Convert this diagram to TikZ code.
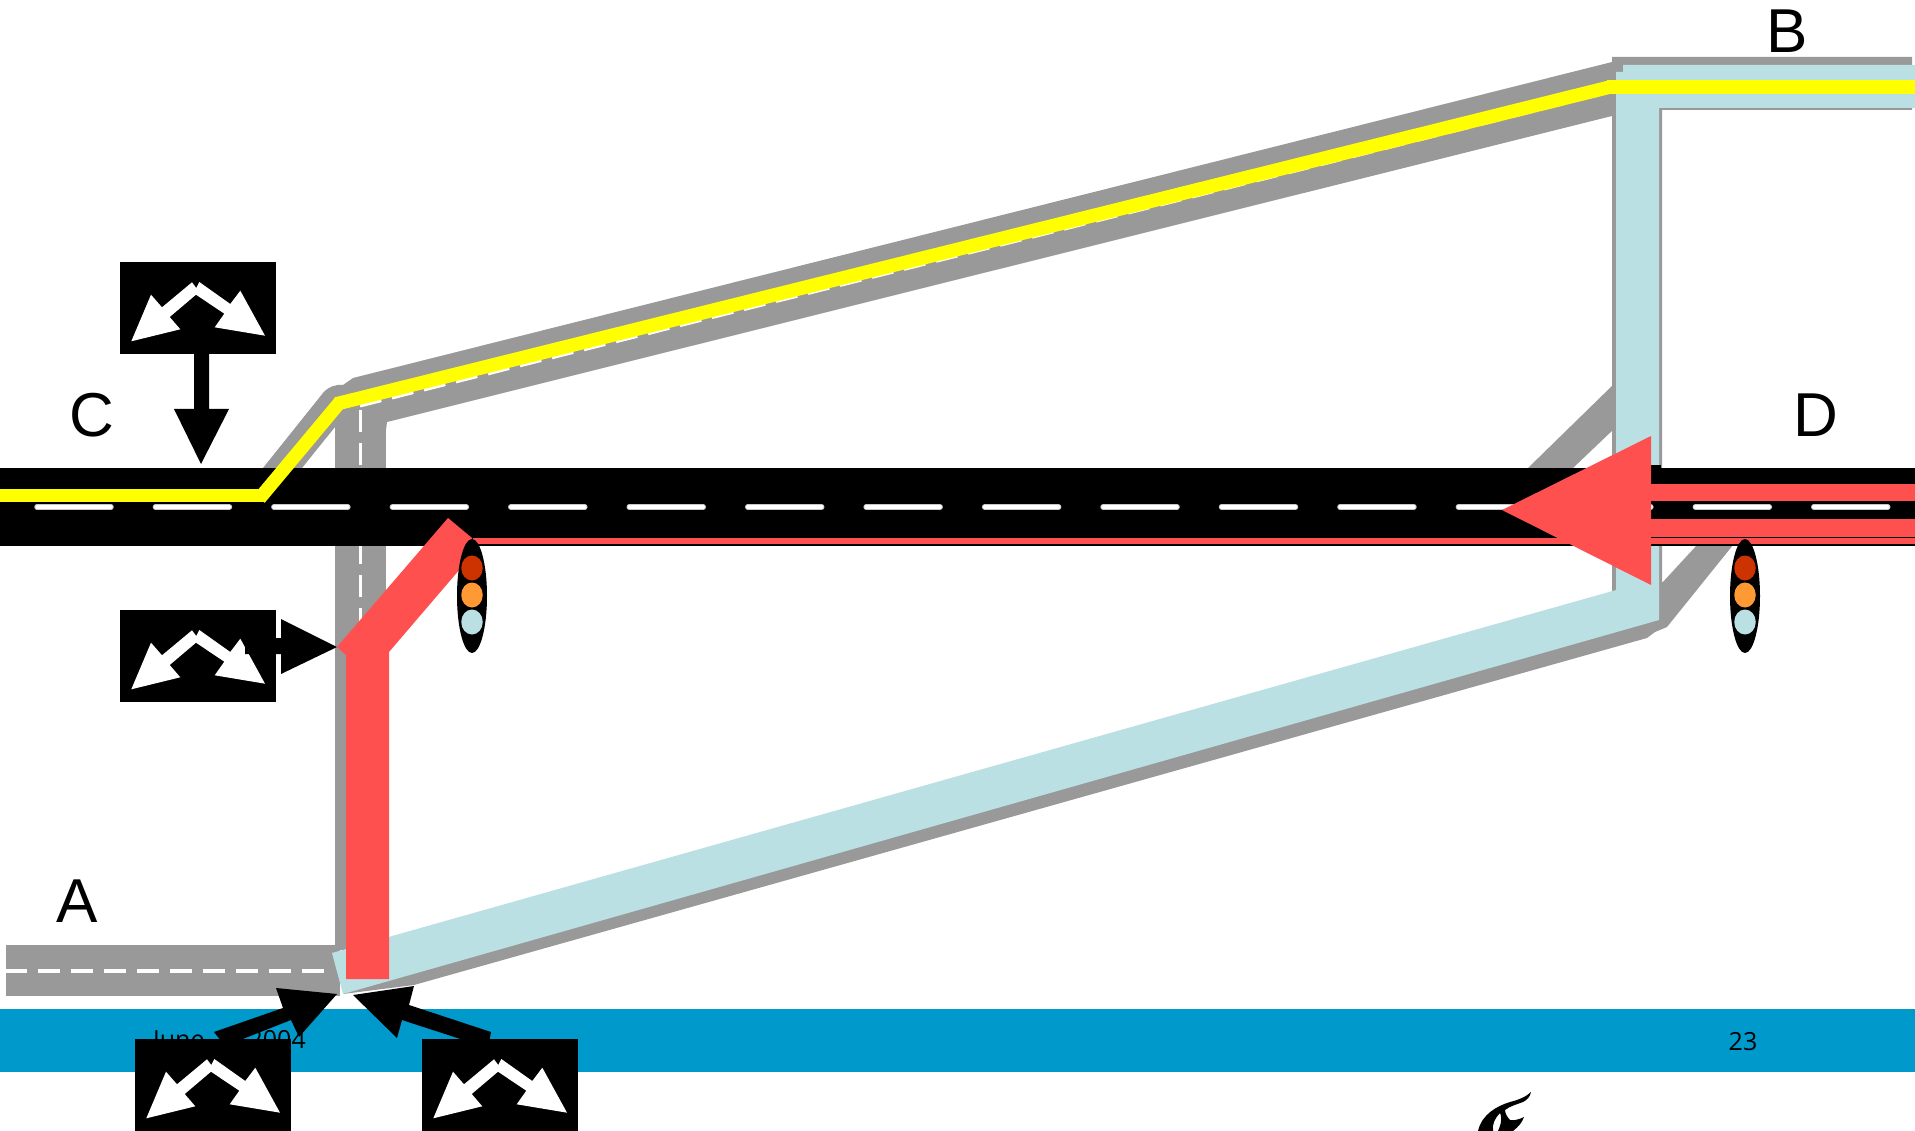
\documentclass[tikz,border=0pt]{standalone}
\usepackage{fontspec}
\setmainfont{Liberation Sans}
\newfontfamily\footfont{Open Sans}
\definecolor{rgray}{HTML}{999999}
\definecolor{rred}{HTML}{FF5050}
\definecolor{rblue}{HTML}{BBE0E3}
\definecolor{ryellow}{HTML}{FFFF00}
\definecolor{rband}{HTML}{0099CC}
\definecolor{lred}{HTML}{CC3300}
\definecolor{lorange}{HTML}{FF9933}
\usetikzlibrary{shapes.geometric}
\tikzset{
  x=1pt,y=-1pt,
  grayfill/.style={fill=rgray,draw=none},
  redfill/.style={fill=rred,draw=none},
  bluefill/.style={fill=rblue,draw=none},
  blackfill/.style={fill=black,draw=none},
  whitefill/.style={fill=white,draw=none},
  yellowline/.style={draw=ryellow,line width=13.5pt},
  whitedash/.style={draw=white,line width=3.5pt,dash pattern=on 22pt off 11pt},
  lamp/.style={ellipse,draw=none,minimum width=21.5pt,minimum height=25pt,inner sep=0pt},
  housing/.style={ellipse,fill=black,draw=none,minimum width=30pt,minimum height=114pt,inner sep=0pt},
  lbl/.style={font=\fontsize{62}{62}\selectfont,inner sep=0pt,anchor=center},
  foot/.style={font=\footfont\fontsize{25}{25}\selectfont,inner sep=0pt,text=black},
  signbox/.pic={
    \path[blackfill] (0,0) rectangle (156,92);
    \path[whitefill] (11.3,79.3)--(31,32.7)--(42,45.3)--(72,20.3)--(76.3,26)--(79.3,20)--(110.3,42)--(120.3,28.7)--(145,73.7)--(94.7,65.3)--(104.3,51.7)--(76,32.7)--(49.7,55)--(60.3,67.3)--cycle;
  }
}
\begin{document}
\begin{tikzpicture}
\useasboundingbox (0,0) rectangle (1915,1131);
\fill[white] (0,0) rectangle (1915,1131);
% footer band
\path[fill=rband] (0,1009) rectangle (1915,1072);
\node[foot,anchor=west] (date) at (153,1042) {June\hspace{44pt}2004};
\node[foot] (pagenum) at (1743,1042) {23};
% logo
\path[blackfill] (1531,1092) .. controls (1526,1097) and (1518,1100) .. (1510,1102)
  .. controls (1497,1106) and (1482,1114) .. (1478,1131) -- (1493,1131)
  .. controls (1492,1124) and (1495,1118) .. (1500,1113)
  .. controls (1503,1120) and (1500,1126) .. (1498,1131) -- (1513,1131)
  .. controls (1518,1127) and (1522,1123) .. (1524,1117)
  .. controls (1520,1119) and (1514,1121) .. (1510,1120)
  .. controls (1507,1117) and (1505,1113) .. (1505,1110)
  .. controls (1510,1106) and (1518,1104) .. (1523,1102)
  .. controls (1527,1100) and (1530,1097) .. cycle;
% road A
\path[grayfill] (6,945) rectangle (340,996);
\draw[whitedash,dash phase=1.5pt] (6,971) -- (334,971);
% vertical gray road and grey edges
\path[grayfill] (335,405) rectangle (346,950);
\path[grayfill] (335,405) rectangle (386,680);
\path[grayfill] (263,468) -- (323,393) .. controls (328,387) and (336,384) .. (343,385) -- (353,378) -- (1612,62) -- (1612,116) -- (387,422) -- (386,430) -- (335,430) -- (335,427) -- (302,468) -- cycle;
\draw[whitedash,line width=3pt] (360,406) -- (1610,92);
\draw[whitedash,line width=3pt] (360,410) -- (360,650);
% gray under the blue
\path[grayfill] (1612,57) -- (1912,57) -- (1912,110) -- (1662,110) -- (1662,583) -- (1697,545) -- (1733,545) -- (1667,627) -- (1655,632) -- (1647,638) -- (414,985) -- (343,994) -- (343,960) -- (1612,595) -- cycle;
\path[grayfill] (1528,468) -- (1615,383) -- (1615,428) -- (1573,468) -- cycle;
% blue route
\path[bluefill] (1623,65) -- (1915,65) -- (1915,108) -- (1659,108) -- (1659,620) -- (343,994) -- (332,953) -- (1616,590) -- (1616,72) -- (1623,72) -- cycle;
% main road
\path[blackfill] (0,468) rectangle (1915,546);
\path[blackfill] (1651,465) rectangle (1661,468);
\foreach \k in {0,...,15} {
  \pgfmathsetmacro{\xa}{37+118.45*\k}
  \pgfmathsetmacro{\xb}{\xa+74}
  \draw[draw=black!22,line width=5.5pt,line cap=round] (\xa,507) -- (\xb,507);
  \draw[draw=white,line width=3.5pt,line cap=round] (\xa,507) -- (\xb,507);
}
% red stripes
\path[redfill] (473,538) rectangle (1915,544);
\path[redfill] (1651,484) rectangle (1915,501);
\path[redfill] (1651,519) rectangle (1915,537);
% red arrow
\path[redfill] (1502,510) -- (1651,436) -- (1651,585) -- cycle;
% red route Y
\path[redfill] (337,647) -- (448,518) -- (472,538) -- (472,555) -- (389,652) -- (389,979) -- (346,979) -- (346,655) -- cycle;
% yellow route
\draw[yellowline] (0,495.5) -- (263,495.5);
\draw[yellowline] (259.5,498.5) -- (340.5,401.5);
\draw[yellowline] (336,404) -- (1610,87);
\draw[yellowline] (1607,87) -- (1915,87);
% lights
\node[housing] (lightL) at (472,596) {};
\node[lamp,fill=lred] (lightLr) at (472,568) {};
\node[lamp,fill=lorange] (lightLo) at (472,595) {};
\node[lamp,fill=rblue] (lightLg) at (472,622) {};
\node[housing] (lightR) at (1745,596) {};
\node[lamp,fill=lred] (lightRr) at (1745,568) {};
\node[lamp,fill=lorange] (lightRo) at (1745,595) {};
\node[lamp,fill=rblue] (lightRg) at (1745,622) {};
% signs
\pic at (120,262) {signbox};
\pic at (120,610) {signbox};
\pic at (135,1039) {signbox};
\pic at (422,1039) {signbox};
% black arrows
\path[blackfill] (194,340) -- (209,340) -- (209,409) -- (229,409) -- (201,464) -- (174,409) -- (194,409) -- cycle;
\path[blackfill] (245,638) -- (281,638) -- (281,619) -- (337,647) -- (281,674) -- (281,654) -- (245,654) -- cycle;
\path[blackfill] (214,1032) -- (283,1008) -- (276,988) -- (337,994) -- (299,1037) -- (291,1020) -- (225,1046) -- cycle;
\path[blackfill] (491,1032) -- (409,1005) -- (414,986) -- (353,995) -- (397,1038) -- (402,1020) -- (488,1048) -- cycle;
% labels
\node[lbl] (labA) at (77,901) {A};
\node[lbl] (labB) at (1787,31) {B};
\node[lbl] (labC) at (92,415) {C};
\node[lbl] (labD) at (1816,415) {D};
\end{tikzpicture}
\end{document}
